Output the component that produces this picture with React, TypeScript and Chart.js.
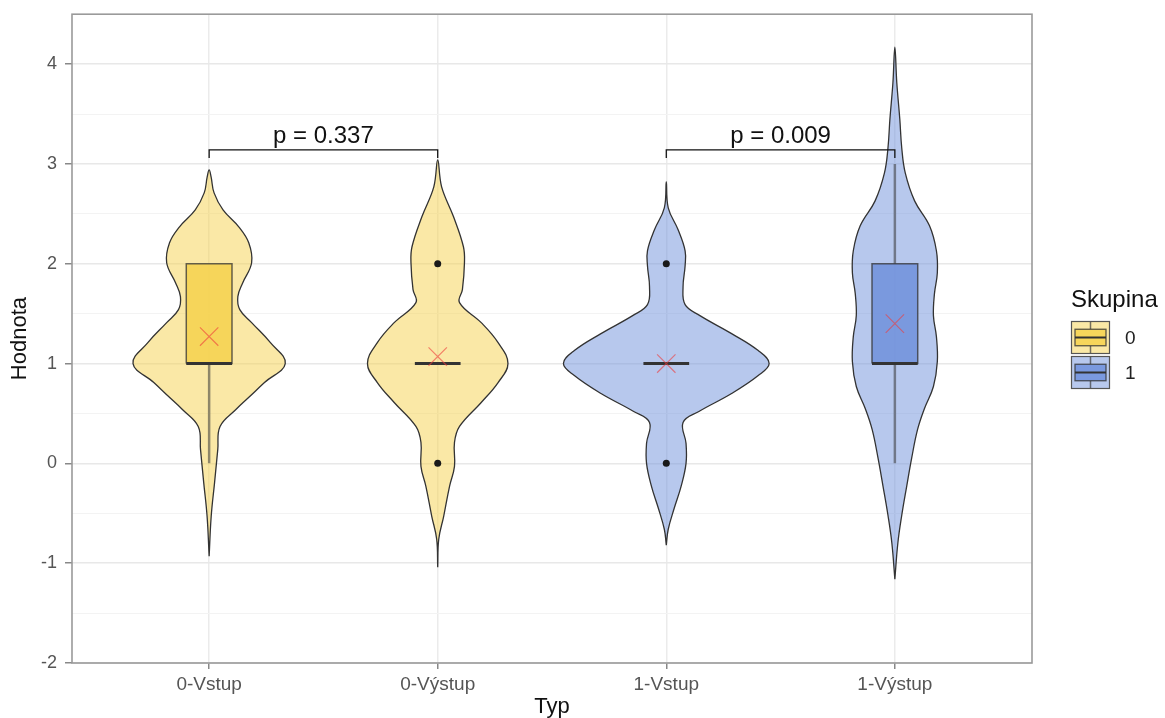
import React, { useEffect, useRef } from 'react';
import { Chart, registerables } from 'chart.js';

Chart.register(...registerables);

// ---------- data ----------
const categories = ['0-Vstup', '0-Výstup', '1-Vstup', '1-Výstup'];
const categoryGroup = ['0', '0', '1', '1'];
const legendGroups = ['0', '1'];
const legendTitle = 'Skupina';
const xTitle = 'Typ';
const yTitle = 'Hodnota';

const yMajorTicks = [-2, -1, 0, 1, 2, 3, 4];
const yMinorTicks = [-1.5, -0.5, 0.5, 1.5, 2.5, 3.5];

// violin profiles: y values and relative density (1 = widest violin)
const violin0Y = [-0.93, -0.53, -0.19, 0.14, 0.37, 0.54, 0.67, 0.81, 1.0, 1.21, 1.41, 1.54, 1.67, 1.81, 2.01, 2.21, 2.37, 2.54, 2.71, 2.87, 2.94];
const violin0D = [0, 0.02, 0.053, 0.084, 0.106, 0.26, 0.394, 0.538, 0.74, 0.596, 0.413, 0.298, 0.279, 0.327, 0.413, 0.385, 0.288, 0.135, 0.048, 0.019, 0];

const violin1Y = [-1.04, -0.76, -0.53, -0.23, -0.03, 0.21, 0.37, 0.61, 0.81, 1.0, 1.21, 1.41, 1.61, 1.74, 2.01, 2.17, 2.47, 2.77, 3.04];
const violin1D = [0, 0.01, 0.058, 0.115, 0.163, 0.163, 0.212, 0.423, 0.587, 0.683, 0.587, 0.423, 0.212, 0.24, 0.26, 0.25, 0.154, 0.038, 0];

const violin2Y = [-0.82, -0.66, -0.45, -0.23, 0.0, 0.2, 0.41, 0.52, 0.7, 0.88, 1.0, 1.13, 1.3, 1.48, 1.59, 1.77, 1.98, 2.13, 2.34, 2.56, 2.82];
const violin2D = [0, 0.019, 0.077, 0.144, 0.192, 0.192, 0.163, 0.317, 0.635, 0.894, 1.0, 0.894, 0.635, 0.327, 0.183, 0.163, 0.183, 0.183, 0.115, 0.019, 0];

const violin3Y = [-1.16, -0.8, -0.52, -0.23, 0.05, 0.34, 0.55, 0.77, 1.02, 1.27, 1.48, 1.7, 1.91, 2.13, 2.38, 2.63, 2.91, 3.16, 3.45, 3.81, 4.17];
const violin3D = [0, 0.029, 0.067, 0.115, 0.163, 0.221, 0.288, 0.375, 0.413, 0.404, 0.375, 0.385, 0.413, 0.404, 0.337, 0.192, 0.101, 0.067, 0.048, 0.019, 0];

// box plot statistics
const boxQ1 = [1, 1, 1, 1];
const boxMedian = [1, 1, 1, 1];
const boxQ3 = [2, 1, 1, 2];
const whiskerLow = [0, 1, 1, 0];
const whiskerHigh = [2, 1, 1, 3];
const means = [1.27, 1.07, 1.0, 1.4];
const outlierCategory = [2, 2, 3, 3];
const outlierValue = [0, 2, 0, 2];

// comparisons
const compFrom = [1, 3];
const compTo = [2, 4];
const compY = [3.14, 3.14];
const compTipY = [3.06, 3.06];
const pLabels = ['p = 0.337', 'p = 0.009'];

// ---------- styles ----------
const FONT = "'Liberation Sans', Arial, sans-serif";
const VIOLIN_HALF = 0.45;
const BOX_HALF = 0.1;
const groupColor: Record<string, number[]> = { '0': [246, 210, 77], '1': [112, 145, 220] };
const rgba = (c: number[], a: number) => `rgba(${c[0]},${c[1]},${c[2]},${a})`;

const violinYs = [violin0Y, violin1Y, violin2Y, violin3Y];
const violinDs = [violin0D, violin1D, violin2D, violin3D];

function violinPoints(cx: number, ys: number[], ds: number[]) {
  const right = ys.map((y, i) => ({ x: cx + ds[i] * VIOLIN_HALF, y }));
  const left = ys.map((y, i) => ({ x: cx - ds[i] * VIOLIN_HALF, y })).reverse();
  return [...right, ...left.slice(1)];
}

function buildDatasets() {
  const ds: any[] = [];
  categories.forEach((_, i) => {
    const cx = i + 1;
    const col = groupColor[categoryGroup[i]];
    ds.push({
      type: 'line',
      data: violinPoints(cx, violinYs[i], violinDs[i]),
      borderColor: '#333333',
      borderWidth: 1.3,
      backgroundColor: rgba(col, 0.5),
      fill: 'shape',
      tension: 0.4,
      pointRadius: 0,
      order: 10,
    });
  });
  categories.forEach((_, i) => {
    const cx = i + 1;
    if (whiskerLow[i] < boxQ1[i]) {
      ds.push({
        type: 'line',
        data: [{ x: cx, y: whiskerLow[i] }, { x: cx, y: boxQ1[i] }],
        borderColor: 'rgba(60,60,60,0.55)',
        borderWidth: 2.5,
        pointRadius: 0,
        fill: false,
        order: 9,
      });
    }
    if (whiskerHigh[i] > boxQ3[i]) {
      ds.push({
        type: 'line',
        data: [{ x: cx, y: boxQ3[i] }, { x: cx, y: whiskerHigh[i] }],
        borderColor: 'rgba(60,60,60,0.55)',
        borderWidth: 2.5,
        pointRadius: 0,
        fill: false,
        order: 9,
      });
    }
  });
  categories.forEach((_, i) => {
    const cx = i + 1;
    const col = groupColor[categoryGroup[i]];
    if (boxQ3[i] > boxQ1[i]) {
      ds.push({
        type: 'line',
        data: [
          { x: cx - BOX_HALF, y: boxQ1[i] },
          { x: cx + BOX_HALF, y: boxQ1[i] },
          { x: cx + BOX_HALF, y: boxQ3[i] },
          { x: cx - BOX_HALF, y: boxQ3[i] },
          { x: cx - BOX_HALF, y: boxQ1[i] },
        ],
        backgroundColor: rgba(col, 0.85),
        borderColor: 'rgba(51,51,51,0.75)',
        borderWidth: 1.5,
        fill: 'shape',
        tension: 0,
        pointRadius: 0,
        order: 8,
      });
    }
    ds.push({
      type: 'line',
      data: [{ x: cx - BOX_HALF, y: boxMedian[i] }, { x: cx + BOX_HALF, y: boxMedian[i] }],
      borderColor: '#333333',
      borderWidth: 3,
      pointRadius: 0,
      fill: false,
      order: 7,
    });
  });
  ds.push({
    type: 'line',
    data: outlierCategory.map((c, i) => ({ x: c, y: outlierValue[i] })),
    showLine: false,
    pointRadius: 3.5,
    pointBackgroundColor: '#1a1a1a',
    pointBorderWidth: 0,
    order: 6,
  });
  ds.push({
    type: 'line',
    data: means.map((m, i) => ({ x: i + 1, y: m })),
    showLine: false,
    pointStyle: 'crossRot',
    pointRadius: 13,
    pointBorderColor: 'rgba(238,60,60,0.6)',
    pointBorderWidth: 1.2,
    order: 5,
  });
  compFrom.forEach((a, i) => {
    const b = compTo[i];
    ds.push({
      type: 'line',
      data: [
        { x: a, y: compTipY[i] },
        { x: a, y: compY[i] },
        { x: b, y: compY[i] },
        { x: b, y: compTipY[i] },
      ],
      borderColor: '#111111',
      borderWidth: 1.3,
      tension: 0,
      pointRadius: 0,
      fill: false,
      order: 1,
    });
  });
  return ds;
}

const annotPlugin = {
  id: 'annot',
  afterDatasetsDraw(chart: any) {
    const { ctx, chartArea: a, scales } = chart;
    const x = scales.x;
    const y = scales.y;
    ctx.save();
    ctx.strokeStyle = '#9a9a9a';
    ctx.lineWidth = 1.6;
    ctx.strokeRect(a.left, a.top, a.right - a.left, a.bottom - a.top);
    ctx.fillStyle = '#111111';
    ctx.font = `24px ${FONT}`;
    ctx.textAlign = 'center';
    ctx.textBaseline = 'alphabetic';
    compFrom.forEach((f, i) => {
      const px = x.getPixelForValue((f + compTo[i]) / 2);
      const py = y.getPixelForValue(compY[i]);
      ctx.fillText(pLabels[i], px, py - 7);
    });
    ctx.restore();
  },
  afterDraw(chart: any) {
    const { ctx, chartArea: a } = chart;
    const lx = a.right + 39;
    ctx.save();
    ctx.fillStyle = '#111111';
    ctx.font = `24px ${FONT}`;
    ctx.textAlign = 'left';
    ctx.textBaseline = 'alphabetic';
    ctx.fillText(legendTitle, lx, 307);
    const kw = 39;
    const kh = 33;
    legendGroups.forEach((g, i) => {
      const ky = 321 + i * 35;
      const col = groupColor[g];
      ctx.fillStyle = '#ffffff';
      ctx.fillRect(lx, ky, kw, kh);
      ctx.fillStyle = rgba(col, 0.5);
      ctx.fillRect(lx, ky, kw, kh);
      ctx.strokeStyle = '#555555';
      ctx.lineWidth = 1.2;
      ctx.strokeRect(lx + 0.5, ky + 0.5, kw - 1, kh - 1);
      ctx.strokeStyle = 'rgba(60,60,60,0.7)';
      ctx.lineWidth = 1.5;
      ctx.beginPath();
      ctx.moveTo(lx + kw / 2, ky + 1);
      ctx.lineTo(lx + kw / 2, ky + kh * 0.25);
      ctx.moveTo(lx + kw / 2, ky + kh * 0.75);
      ctx.lineTo(lx + kw / 2, ky + kh - 1);
      ctx.stroke();
      ctx.fillStyle = rgba(col, 0.85);
      ctx.fillRect(lx + 4, ky + kh * 0.25, kw - 8, kh * 0.5);
      ctx.strokeStyle = 'rgba(51,51,51,0.8)';
      ctx.lineWidth = 1.3;
      ctx.strokeRect(lx + 4, ky + kh * 0.25, kw - 8, kh * 0.5);
      ctx.strokeStyle = '#333333';
      ctx.lineWidth = 2;
      ctx.beginPath();
      ctx.moveTo(lx + 4, ky + kh / 2);
      ctx.lineTo(lx + kw - 4, ky + kh / 2);
      ctx.stroke();
      ctx.fillStyle = '#222222';
      ctx.font = `19px ${FONT}`;
      ctx.textBaseline = 'middle';
      ctx.fillText(g, lx + 54, ky + kh / 2 + 1);
      ctx.textBaseline = 'alphabetic';
    });
    ctx.restore();
  },
};

export default function App() {
  const ref = useRef<HTMLCanvasElement | null>(null);
  useEffect(() => {
    if (!ref.current) return;
    const chart = new Chart(ref.current, {
      type: 'line',
      data: { datasets: buildDatasets() },
      options: {
        responsive: false,
        animation: false,
        events: [],
        layout: { padding: { top: 14, right: 133, left: 0, bottom: 0 } },
        plugins: {
          legend: { display: false },
          tooltip: { enabled: false },
          title: { display: false },
        },
        scales: {
          x: {
            type: 'linear',
            min: 0.4,
            max: 4.6,
            afterBuildTicks: (s: any) => {
              s.ticks = categories.map((_, i) => ({ value: i + 1 }));
            },
            afterFit: (s: any) => {
              s.height = 55;
              s.paddingLeft = 0;
              s.paddingRight = 0;
            },
            ticks: {
              autoSkip: false,
              maxRotation: 0,
              padding: 4,
              color: '#555555',
              font: { family: FONT, size: 19 },
              callback: (v: any) => categories[Number(v) - 1] ?? '',
            },
            grid: {
              color: '#ebebeb',
              lineWidth: 1.5,
              tickColor: '#888888',
              tickLength: 6,
              tickWidth: 1.5,
            },
            border: { display: false },
            title: {
              display: true,
              text: xTitle,
              color: '#111111',
              font: { family: FONT, size: 22, lineHeight: 1 },
              padding: { top: 0, bottom: 0 },
            },
          },
          y: {
            type: 'linear',
            min: -2,
            max: 4.5,
            afterBuildTicks: (s: any) => {
              s.ticks = [...yMajorTicks, ...yMinorTicks].sort((p, q) => p - q).map((v) => ({ value: v }));
            },
            afterFit: (s: any) => {
              s.width = 72;
              s.paddingTop = 0;
              s.paddingBottom = 0;
            },
            ticks: {
              autoSkip: false,
              padding: 8,
              color: '#555555',
              font: { family: FONT, size: 18 },
              callback: (v: any) => (yMajorTicks.includes(Number(v)) ? String(v) : ''),
            },
            grid: {
              color: (c: any) => (yMajorTicks.includes(c.tick?.value) ? '#e8e8e8' : '#f3f3f3'),
              lineWidth: (c: any) => (yMajorTicks.includes(c.tick?.value) ? 1.5 : 1),
              tickColor: (c: any) => (yMajorTicks.includes(c.tick?.value) ? '#888888' : 'rgba(0,0,0,0)'),
              tickLength: 7,
              tickWidth: 1.5,
            },
            border: { display: false },
            title: {
              display: true,
              text: yTitle,
              color: '#111111',
              font: { family: FONT, size: 22, lineHeight: 1 },
              padding: { top: 9, bottom: 0 },
            },
          },
        },
      } as any,
      plugins: [annotPlugin],
    });
    return () => chart.destroy();
  }, []);
  return (
    <div style={{ position: 'fixed', left: 0, top: 0, width: 1165, height: 718, background: '#ffffff' }}>
      <canvas ref={ref} width={1165} height={718} style={{ display: 'block' }} />
    </div>
  );
}
